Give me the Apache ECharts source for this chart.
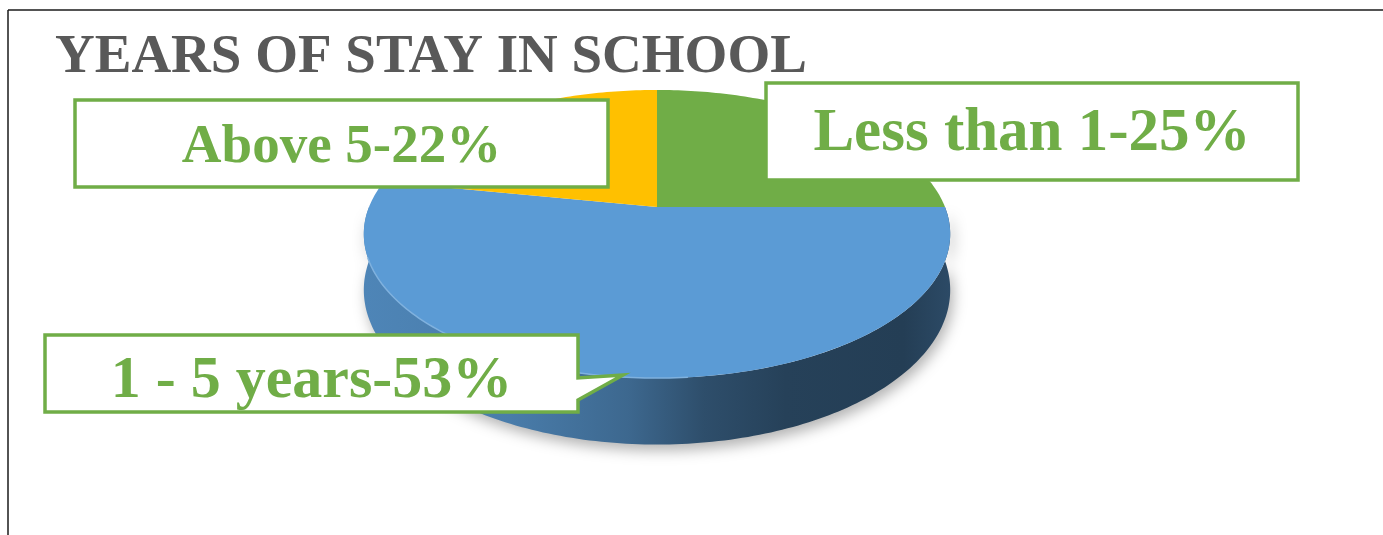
<!DOCTYPE html>
<html>
<head>
<meta charset="utf-8">
<script src="https://cdn.jsdelivr.net/npm/echarts@6/dist/echarts.min.js"></script>
<style>
html,body{margin:0;padding:0;background:#fff;}
#c{width:1383px;height:535px;}
</style>
</head>
<body>
<div id="c"></div>
<script>
// ---- data ----
const chartTitle = 'YEARS OF STAY IN SCHOOL';
const categories = ['Less than 1', '1 - 5 years', 'Above 5'];
const values = [25, 53, 22];
const sliceColors = ['#70ad47', '#5b9bd5', '#ffc000'];

// ---- layout / style ----
const PIE = { cx: 657, cy: 207, rx: 288, ry: 139, k: 0.1875, depth: 54 };
const LABEL_GREEN = '#70ad47';
const LABEL_LAYOUT = [
  { x: 766, y: 83, w: 532, h: 97, fontSize: 61, ty: 134 },
  { x: 45, y: 335, w: 533, h: 77, fontSize: 60, ty: 381, pointer: [[578, 378], [623, 375], [578, 400]] },
  { x: 75, y: 100, w: 533, h: 87, fontSize: 55, ty: 148 }
];
const WALL_STOPS = [[0, 0.86], [0.25, 0.8], [0.45, 0.67], [0.58, 0.5], [0.72, 0.42], [0.92, 0.4], [1, 0.48]];

const total = values.reduce((a, b) => a + b, 0);
const starts = [];
(function () { let acc = 0; values.forEach(v => { starts.push(acc); acc += v; }); })();

function proj(theta, r, drop) {
  const t = theta * Math.PI / 180;
  const u = r * Math.sin(t), v = -r * Math.cos(t);
  const w = 1 - PIE.k * v;
  return [PIE.cx + PIE.rx * u / w, PIE.cy + (PIE.ry * v + drop) / w];
}
function arc(a1, a2, drop) {
  const pts = [];
  const n = Math.max(2, Math.ceil(Math.abs(a2 - a1)));
  for (let i = 0; i <= n; i++) pts.push(proj(a1 + (a2 - a1) * i / n, 1, drop));
  return pts;
}
function shade(hex, f) {
  const n = parseInt(hex.slice(1), 16);
  const r = Math.round(((n >> 16) & 255) * f), g = Math.round(((n >> 8) & 255) * f), b = Math.round((n & 255) * f);
  return 'rgb(' + r + ',' + g + ',' + b + ')';
}
function lighten(hex, f) {
  const n = parseInt(hex.slice(1), 16);
  const c = [(n >> 16) & 255, (n >> 8) & 255, n & 255].map(x => Math.round(x + (255 - x) * f));
  return 'rgb(' + c.join(',') + ')';
}

function renderItem(params, api) {
  const idx = params.dataIndex;
  const val = api.value(0);
  const a1 = starts[idx] / total * 360;
  const a2 = a1 + val / total * 360;
  const color = sliceColors[idx];
  const children = [];
  const b1 = Math.max(a1, 90), b2 = Math.min(a2, 270);
  if (b2 > b1) {
    children.push({
      type: 'polygon', z2: 1,
      shape: { points: arc(b1, b2, 0).concat(arc(b2, b1, PIE.depth)) },
      style: {
        fill: new echarts.graphic.LinearGradient(0, 0, 1, 0,
          WALL_STOPS.map(s => ({ offset: s[0], color: shade(color, s[1]) }))),
        shadowBlur: 14, shadowColor: 'rgba(0,0,0,0.3)', shadowOffsetY: 6, shadowOffsetX: 3
      }
    });
  }
  children.push({
    type: 'polygon', z2: 2,
    shape: { points: [proj(0, 0, 0)].concat(arc(a1, a2, 0)) },
    style: { fill: color }
  });
  if (b2 > b1) {
    children.push({
      type: 'polyline', z2: 3,
      shape: { points: arc(Math.max(b1, 175), Math.min(b2, 250), 0) },
      style: { stroke: lighten(color, 0.22), lineWidth: 1.5, fill: null }
    });
  }
  // label
  const L = LABEL_LAYOUT[idx];
  let boxPts = [[L.x, L.y], [L.x + L.w, L.y]];
  if (L.pointer) boxPts = boxPts.concat(L.pointer);
  boxPts = boxPts.concat([[L.x + L.w, L.y + L.h], [L.x, L.y + L.h]]);
  children.push({
    type: 'polygon', z2: 10,
    shape: { points: boxPts },
    style: { fill: '#ffffff', stroke: LABEL_GREEN, lineWidth: 3.5, lineJoin: 'miter' }
  });
  children.push({
    type: 'text', z2: 11,
    style: {
      text: categories[idx] + '-' + val + '%',
      x: L.x + L.w / 2, y: L.ty,
      fill: LABEL_GREEN,
      font: 'bold ' + L.fontSize + 'px "Liberation Serif", "Times New Roman", serif',
      textAlign: 'center', textVerticalAlign: 'middle'
    }
  });
  return { type: 'group', children: children };
}

const chart = echarts.init(document.getElementById('c'), null, { renderer: 'canvas' });
chart.setOption({
  animation: false,
  backgroundColor: '#ffffff',
  graphic: [
    { type: 'line', shape: { x1: 8, y1: 10, x2: 1383, y2: 10 }, style: { stroke: '#1a1a1a', lineWidth: 1.5 } },
    { type: 'line', shape: { x1: 8, y1: 10, x2: 8, y2: 535 }, style: { stroke: '#1a1a1a', lineWidth: 1.5 } },
    {
      type: 'text', left: 55, top: 30, z: 5,
      style: {
        text: chartTitle, fill: '#595959',
        font: 'bold 55px "Liberation Serif", "Times New Roman", serif'
      }
    }
  ],
  series: [{
    type: 'custom',
    coordinateSystem: 'none',
    renderItem: renderItem,
    data: values.map((v, i) => ({ name: categories[i], value: [v, i] }))
  }]
});
</script>
</body>
</html>
